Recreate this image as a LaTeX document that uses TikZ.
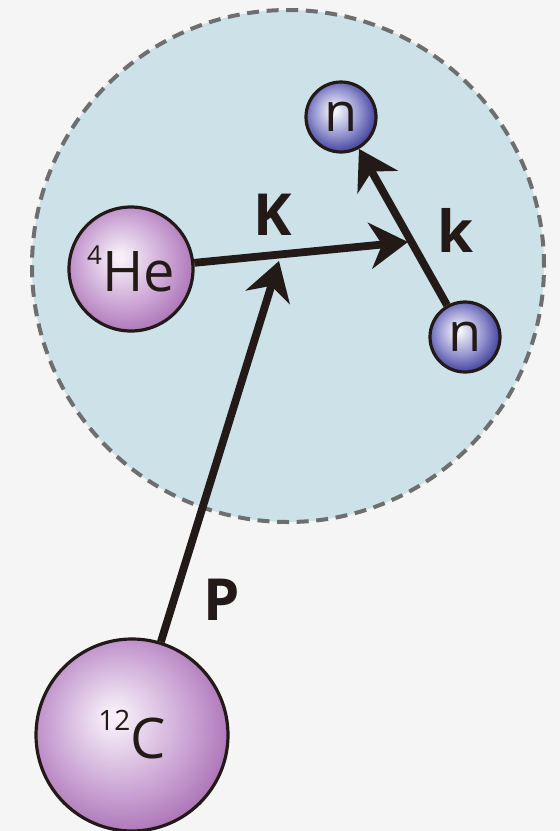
\documentclass[tikz,border=0pt]{standalone}
\usepackage{fontspec}
\setmainfont{Open Sans}
\usepackage{tikz}
\usetikzlibrary{arrows.meta,positioning}
\definecolor{paper}{RGB}{245,245,245}
\definecolor{zoneblue}{RGB}{204,226,232}
\definecolor{zonedash}{RGB}{110,110,110}
\definecolor{ink}{RGB}{35,26,24}
\definecolor{hepale}{RGB}{246,238,248}
\definecolor{hemid}{RGB}{200,160,210}
\definecolor{hedeep}{RGB}{158,94,168}
\definecolor{npale}{RGB}{242,242,250}
\definecolor{nmid}{RGB}{145,145,206}
\definecolor{ndeep}{RGB}{48,48,145}
\pgfdeclareradialshading{heball}{\pgfqpoint{-5bp}{5bp}}{color(0bp)=(hepale); color(2bp)=(hepale); color(19bp)=(hemid); color(33bp)=(hedeep); color(50bp)=(hedeep)}
\pgfdeclareradialshading{nball}{\pgfqpoint{-5bp}{5bp}}{color(0bp)=(npale); color(2bp)=(npale); color(17bp)=(nmid); color(30bp)=(ndeep); color(50bp)=(ndeep)}

\begin{document}
\begin{tikzpicture}[
  x=0.5pt, y=-0.5pt,
  nucleus/.style={circle, draw=ink, line width=1.6pt, shading=heball,
                  text=ink, inner sep=0pt, font=\fontsize{28}{28}\selectfont},
  neutron/.style={circle, draw=ink, line width=1.6pt, shading=nball,
                  minimum size=35pt, text=ink, inner sep=0pt,
                  font=\fontsize{27}{27}\selectfont},
  zone/.style={draw=zonedash, fill=zoneblue, line width=2pt,
               dash pattern=on 6pt off 3.8pt},
  vec/.style={-{Stealth[length=19pt, width=23pt, inset=6pt]}, draw=ink,
              line width=3.9pt},
  lab/.style={text=ink, font=\bfseries\fontsize{29}{29}\selectfont},
]
\useasboundingbox (0,0) rectangle (560,831);
\fill[paper] (0,0) rectangle (560,831);
\coordinate (mid) at (288,266);
\draw[zone] (mid) circle[radius=128pt];

\node[nucleus, minimum size=62pt] (he) at (131,269)
  {\raisebox{13.5pt}{\fontsize{13}{13}\selectfont 4}He};
\node[neutron] (nup) at (341,117) {n};
\node[neutron] (nlow) at (465,337) {n};
\node[nucleus, minimum size=96pt] (c12) at (132,735)
  {\raisebox{14pt}{\fontsize{14}{14}\selectfont 12}C};

\coordinate (Ktip) at (408,242);
\coordinate (Ptip) at (279,261);

\draw[vec] (nlow) -- (nup);
\draw[vec] (he) -- (Ktip);
\draw[vec] (c12) -- (Ptip);

\node[lab] (Klab) at (273,215) {K};
\node[lab] (klab) at (455,230) {k};
\node[lab] (Plab) at (222,600) {P};
\end{tikzpicture}
\end{document}
